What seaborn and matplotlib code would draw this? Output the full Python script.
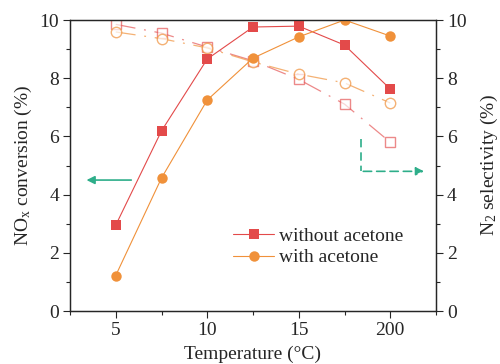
import pandas as pd
import matplotlib
matplotlib.use("Agg")
import matplotlib.pyplot as plt
import seaborn as sns

# Dados
posicoes = [1, 2, 3, 4, 5, 6, 7]
rotulos_x = ["5", "10", "15", "200"]
conv_sem_acetona = [2.95, 6.19, 8.66, 9.76, 9.79, 9.14, 7.63]
conv_com_acetona = [1.22, 4.57, 7.25, 8.69, 9.42, 10.0, 9.45]
sel_sem_acetona = [9.85, 9.55, 9.07, 8.60, 7.96, 7.11, 5.80]
sel_com_acetona = [9.59, 9.36, 9.04, 8.56, 8.14, 7.84, 7.15]

vermelho = "#e34a4a"
laranja = "#f0913a"
verde = "#2eae8a"

sns.set_style("ticks")
plt.rcParams["font.family"] = ["Liberation Serif", "DejaVu Serif"]
plt.rcParams["mathtext.fontset"] = "custom"
plt.rcParams["mathtext.rm"] = "Liberation Serif"
plt.rcParams["mathtext.it"] = "Liberation Serif"

df = pd.DataFrame({
    "pos": posicoes,
    "conv_sem": conv_sem_acetona,
    "conv_com": conv_com_acetona,
    "sel_sem": sel_sem_acetona,
    "sel_com": sel_com_acetona,
})

fig = plt.figure(figsize=(5.0, 3.64), dpi=100)
ax = fig.add_axes([0.14, 0.1456, 0.732, 0.7994])
ax2 = ax.twinx()

# Seletividade (marcadores vazados, traço-ponto)
sns.lineplot(data=df, x="pos", y="sel_sem", ax=ax2, color=vermelho, alpha=0.65,
             marker="s", markersize=7, markerfacecolor="white", markeredgecolor=vermelho,
             markeredgewidth=1.0, linewidth=0.9, dashes=False)
sns.lineplot(data=df, x="pos", y="sel_com", ax=ax2, color=laranja, alpha=0.7,
             marker="o", markersize=7.5, markerfacecolor="white", markeredgecolor=laranja,
             markeredgewidth=1.0, linewidth=0.9, dashes=False)
for ln in ax2.get_lines():
    ln.set_linestyle((0, (16, 7, 1.5, 7)))

# Conversão (marcadores cheios)
sns.lineplot(data=df, x="pos", y="conv_sem", ax=ax, color=vermelho, marker="s",
             markersize=6.5, markeredgewidth=0, linewidth=0.8, label="without acetone")
sns.lineplot(data=df, x="pos", y="conv_com", ax=ax, color=laranja, marker="o",
             markersize=7.5, markeredgewidth=0, linewidth=0.8, label="with acetone")

for a in (ax, ax2):
    a.set_ylim(0, 10)
    a.set_yticks([0, 2, 4, 6, 8, 10])
    a.set_yticks([1, 3, 5, 7, 9], minor=True)
    a.tick_params(axis="y", labelsize=14, length=5, width=0.8, pad=3)
    a.tick_params(axis="y", which="minor", length=3, width=0.8)
    for s in a.spines.values():
        s.set_linewidth(0.9)

ax.set_xlim(0, 8)
ax.set_xticks([1, 3, 5, 7])
ax.set_xticklabels(rotulos_x)
ax.set_xticks([0, 2, 4, 6, 8], minor=True)
ax.tick_params(axis="x", labelsize=14, length=5, width=0.8, pad=3)
ax.tick_params(axis="x", which="minor", length=3, width=0.8)

ax.set_xlabel("Temperature (°C)", fontsize=14, labelpad=5)
ax.set_ylabel(r"NO$_\mathrm{x}$ conversion (%)", fontsize=14, labelpad=4)
ax2.set_ylabel(r"N$_\mathrm{2}$ selectivity (%)", fontsize=14, labelpad=9)

# Setas indicando o eixo
ax.annotate("", xy=(0.3, 4.5), xytext=(1.4, 4.5),
            arrowprops=dict(arrowstyle="-|>", color=verde, lw=1.2, mutation_scale=12))
ax.plot([6.35, 6.35], [5.9, 4.8], color=verde, lw=1.2, linestyle=(0, (5, 3)))
ax.annotate("", xy=(7.8, 4.8), xytext=(6.35, 4.8),
            arrowprops=dict(arrowstyle="-|>", color=verde, lw=1.2, mutation_scale=12,
                            linestyle=(0, (5, 3))))

ax.legend(loc="lower left", bbox_to_anchor=(0.42, 0.12), frameon=False, fontsize=14,
          handlelength=2.1, handletextpad=0.25, labelspacing=0.2, borderpad=0)

ax.set_zorder(ax2.get_zorder() + 1)
ax.patch.set_visible(False)

fig.savefig("out.png", dpi=100)
